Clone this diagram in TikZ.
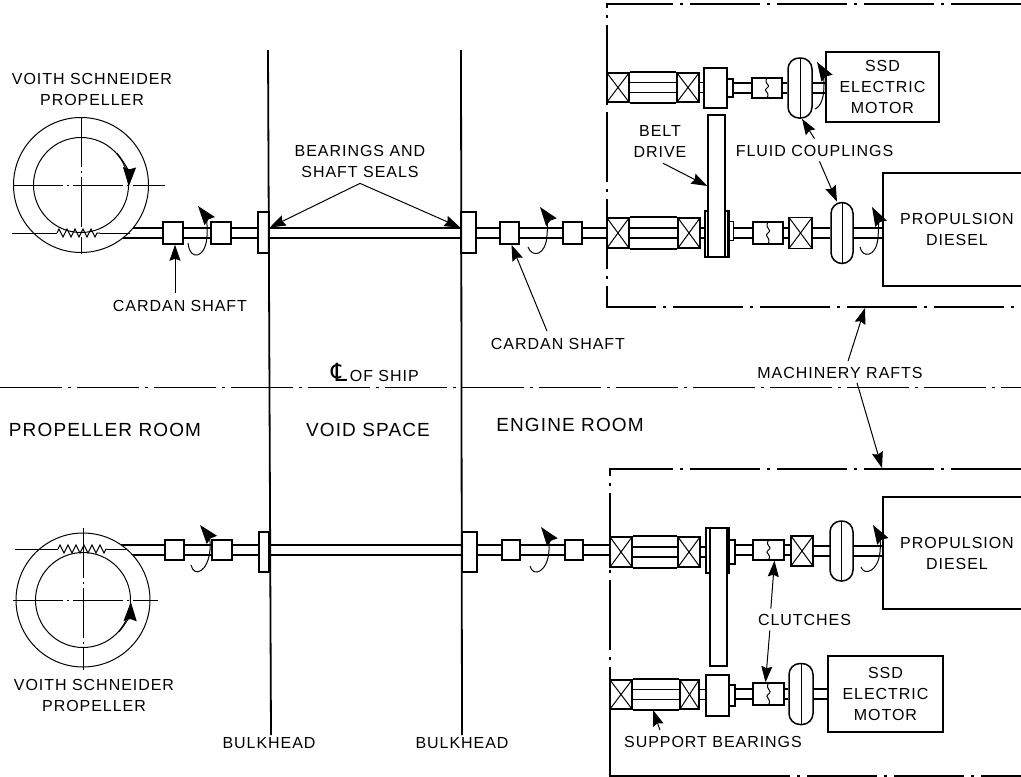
\documentclass[tikz,border=0pt]{standalone}
\usepackage{fontspec}
\setmainfont[LetterSpace=6]{Liberation Sans}
\newfontfamily\symfont{DejaVu Sans}
\usetikzlibrary{arrows.meta,backgrounds,decorations.pathmorphing}
\begin{document}
\begin{tikzpicture}[x=1pt,y=-1pt,
  lbl/.style={inner sep=0pt, align=center, font=\fontsize{16}{21}\selectfont},
  biglbl/.style={inner sep=0pt, font=\fontsize{19}{21}\selectfont},
  part/.style 2 args={draw, fill=white, line width=1.5pt, inner sep=0pt,
               minimum width=#1pt, minimum height=#2pt},
  xbox/.style 2 args={part={#1}{#2}, path picture={
      \draw[line width=1pt] (path picture bounding box.north west) -- (path picture bounding box.south east);
      \draw[line width=1pt] (path picture bounding box.south west) -- (path picture bounding box.north east);}},
  coupl/.style 2 args={part={#1}{#2}, rounded corners=11pt, path picture={
      \draw[line width=1pt] (path picture bounding box.north) -- (path picture bounding box.south);}},
  clutch/.style 2 args={part={#1}{#2}, path picture={
      \draw[line width=1pt] (path picture bounding box.north) .. controls +(-4pt,-7pt) and +(5pt,4pt) .. (path picture bounding box.center)
        .. controls +(-5pt,-4pt) and +(4pt,7pt) .. (path picture bounding box.south);}},
  wheel/.style={draw, circle, fill=white, line width=1pt, inner sep=0pt},
  shaft/.style={double, double distance=8.5pt, line width=1.6pt},
  arr/.style={-{Stealth[length=16pt,width=11pt,inset=2pt]}, line width=1pt},
  turn/.style={-{Stealth[length=19pt,width=13pt,inset=2pt]}, line width=1pt},
  bulk/.style={line width=1.8pt},
  raft/.style={line width=1.5pt, dash pattern=on 70pt off 7pt on 3pt off 7pt},
  axis/.style={line width=1pt, dash pattern=on 62pt off 6pt on 3pt off 6pt},
  hair/.style={line width=1pt, dash pattern=on 50pt off 4pt on 2pt off 4pt},
  spring/.style={line width=1pt, decorate, decoration={zigzag, segment length=8pt, amplitude=4pt}}
]
  \path[use as bounding box, clip] (0,0) rectangle (1021,777);

  \node[wheel, minimum size=135pt] (propa) at (81,185) {};
  \node[wheel, minimum size=95pt] (propb) at (81,185) {};
  \node[part={20}{22}] (carda) at (173,233) {};
  \node[part={20}{22}] (cardb) at (221,233) {};
  \node[part={11}{41}] (seala) at (263.5,232.5) {};
  \node[part={15}{41}] (sealb) at (468.5,232.5) {};
  \node[part={19}{22}] (cardc) at (509.5,233) {};
  \node[part={19}{22}] (cardd) at (572.5,233) {};
  \node[xbox={22}{30}] (brga) at (618,233) {};
  \node[xbox={22}{30}] (brgb) at (689,233) {};
  \node[part={23}{46}] (pula) at (716.5,234) {};
  \node[part={6}{19}] (huba) at (730.5,231) {};
  \node[clutch={30}{22}] (clua) at (768,233) {};
  \node[xbox={23}{31}] (xa) at (800.5,233) {};
  \node[coupl={22}{61}] (coua) at (842,233) {};
  \node[part={148}{113}, lbl] (diesa) at (957,229.5) {PROPULSION\\DIESEL};

  \node[xbox={22}{29}] (brgc) at (618,87.5) {};
  \node[xbox={22}{29}] (brgd) at (688,87.5) {};
  \node[part={23}{40}] (pulb) at (715.5,88) {};
  \node[part={6}{18}] (hubb) at (730,88) {};
  \node[clutch={30}{20}] (club) at (767,88) {};
  \node[coupl={24}{60}] (coub) at (800,88) {};
  \node[part={113}{70}, lbl] (mota) at (882.5,87) {SSD\\ELECTRIC\\MOTOR};
  \node[part={17}{142}] (belta) at (716.5,186) {};

  \node[wheel, minimum size=134pt] (propc) at (83,600) {};
  \node[wheel, minimum size=95pt] (propd) at (83,600) {};
  \node[part={19}{20}] (carde) at (174.5,550) {};
  \node[part={20}{20}] (cardf) at (222,550) {};
  \node[part={10}{40}] (sealc) at (264,552) {};
  \node[part={15}{40}] (seald) at (469.5,552) {};
  \node[part={18}{20}] (cardg) at (511,550) {};
  \node[part={18}{20}] (cardh) at (574,550) {};
  \node[xbox={22}{30}] (brge) at (621,552) {};
  \node[xbox={22}{30}] (brgf) at (689,552) {};
  \node[part={22}{45}] (pulc) at (717,550.5) {};
  \node[part={7}{24}] (hubc) at (731.5,552) {};
  \node[clutch={31}{20}] (cluc) at (768.5,550) {};
  \node[xbox={22}{30}] (xb) at (802,551) {};
  \node[coupl={23}{60}] (couc) at (841.5,551) {};
  \node[part={148}{112}, lbl] (diesb) at (957,553) {PROPULSION\\DIESEL};
  \node[part={17}{138}] (beltb) at (718.5,597) {};

  \node[xbox={22}{29}] (brgg) at (621,694.5) {};
  \node[xbox={19}{29}] (brgh) at (689.5,694.5) {};
  \node[part={23}{41}] (puld) at (717.5,695.5) {};
  \node[part={6}{21}] (hubd) at (732,695.5) {};
  \node[clutch={31}{22}] (clud) at (768.5,694) {};
  \node[coupl={24}{61}] (coud) at (801,694) {};
  \node[part={115}{76}, lbl] (motb) at (885.5,694) {SSD\\ELECTRIC\\MOTOR};

  \begin{scope}[on background layer]
    \draw[shaft] (propa |- carda) -- (carda);
    \draw[shaft] (carda) -- (cardb);
    \draw[shaft] (cardb) -- (seala.center |- cardb);
    \draw[shaft] (seala.center |- cardb) -- (sealb.center |- cardb);
    \draw[shaft] (sealb.center |- cardc) -- (cardc);
    \draw[shaft] (cardc) -- (cardd);
    \draw[shaft] (cardd) -- (brga);
    \draw[shaft] (brga) -- (brgb);
    \draw[shaft] (brgb) -- (pula.center |- brgb);
    \draw[shaft] (huba.center |- clua) -- (clua);
    \draw[shaft] (clua) -- (xa);
    \draw[shaft] (xa) -- (coua);
    \draw[shaft] (coua) -- (diesa.west |- coua);
    \draw[shaft] (brgc) -- (brgd);
    \draw[shaft] (brgd) -- (pulb.center |- brgd);
    \draw[shaft] (hubb) -- (club);
    \draw[shaft] (club) -- (coub);
    \draw[shaft] (coub) -- (mota.west |- coub);
    \draw[shaft] (propc |- carde) -- (carde);
    \draw[shaft] (carde) -- (cardf);
    \draw[shaft] (cardf) -- (sealc.center |- cardf);
    \draw[shaft] (sealc.center |- cardf) -- (seald.center |- cardf);
    \draw[shaft] (seald.center |- cardg) -- (cardg);
    \draw[shaft] (cardg) -- (cardh);
    \draw[shaft] (cardh) -- (brge.center |- cardh);
    \draw[shaft] (brge) -- (brgf);
    \draw[shaft] (brgf) -- (pulc.center |- brgf);
    \draw[shaft] (hubc.center |- cluc) -- (cluc);
    \draw[shaft] (cluc) -- (xb.center |- cluc);
    \draw[shaft] (xb) -- (couc.center |- xb);
    \draw[shaft] (couc) -- (diesb.west |- couc);
    \draw[shaft] (brgg) -- (brgh);
    \draw[shaft] (brgh) -- (puld.center |- brgh);
    \draw[shaft] (hubd.center |- clud) -- (clud);
    \draw[shaft] (clud) -- (coud);
    \draw[shaft] (coud) -- (motb.west |- coud);
  \end{scope}

  \foreach \a/\b in {brga/brgb, brgc/brgd, brge/brgf, brgg/brgh}{
    \draw[line width=1.8pt] (\a.north east) -- (\b.north west);
    \draw[line width=1.8pt] (\a.south east) -- (\b.south west);
  }
  \draw[line width=2.5pt] (pula.north east) -- (pula.south east);
  \draw[line width=2.5pt] (pulc.north east) -- (pulc.south east);

  \coordinate (springa) at (57,233);
  \coordinate (springb) at (100,233);
  \coordinate (springc) at (58,549);
  \coordinate (springd) at (107,549);
  \draw[line width=1pt] (12,233) -- (springa);
  \draw[spring] (springa) -- (springb);
  \draw[line width=1pt] (springb) -- (130,233);
  \draw[line width=1pt] (15,549) -- (springc);
  \draw[spring] (springc) -- (springd);
  \draw[line width=1pt] (springd) -- (126,549);

  \draw[hair] (13,185) -- (165,185);
  \draw[hair] (81,117) -- (81,254);
  \draw[hair] (13,600) -- (158,600);
  \draw[hair] (83,528) -- (83,670);

  \draw[turn] (propb.42) arc[start angle=42, end angle=-2, radius=47.5pt];
  \draw[turn] (propd.-42) arc[start angle=-42, end angle=-2, radius=47.5pt];

  \draw[bulk] (268,50) -- (271,735);
  \draw[bulk] (461,50) -- (462,735);
  \draw[axis] (0,387) -- (1021,387);

  \draw[raft] (1021,4) -- (607,4) -- (607,307) -- (1021,307);
  \draw[raft] (1021,469) -- (610,469) -- (610,708);
  \draw[line width=1.8pt] (610,708) -- (610,776) -- (720,776);
  \draw[raft] (720,776) -- (1021,776);

  \draw[turn] (188,243) .. controls (190,262) and (206,258) .. (207,236) .. controls (208,225) and (205,215) .. (198,206);
  \draw[turn] (528,247) .. controls (532,258) and (546,256) .. (547,235) .. controls (548,225) and (546,215) .. (540,207);
  \draw[turn] (860,247) .. controls (862,258) and (876,258) .. (878,238) .. controls (879,225) and (878,218) .. (872,207);
  \draw[turn] (815,109) .. controls (822,106) and (824,95) .. (824,85) .. controls (824,76) and (822,70) .. (817,62);
  \draw[turn] (191,565) .. controls (194,578) and (208,572) .. (210,550) .. controls (211,540) and (208,535) .. (200,525);
  \draw[turn] (530,566) .. controls (533,578) and (548,572) .. (549,550) .. controls (550,540) and (547,535) .. (541,527);
  \draw[turn] (861,567) .. controls (864,576) and (878,572) .. (880,552) .. controls (881,542) and (879,535) .. (873,525);

  \node[lbl] (voitha) at (92,89) {VOITH SCHNEIDER\\PROPELLER};
  \node[lbl] (voithb) at (94,695) {VOITH SCHNEIDER\\PROPELLER};
  \node[lbl] (cardla) at (180,306) {CARDAN SHAFT};
  \node[lbl] (cardlb) at (558,344) {CARDAN SHAFT};
  \node[lbl] (bearl) at (360,161) {BEARINGS AND\\SHAFT SEALS};
  \node[lbl] (beltl) at (660,141) {BELT\\DRIVE};
  \node[lbl] (fluidl) at (814.5,150.5) {FLUID COUPLINGS};
  \node[lbl] (raftl) at (840,373) {MACHINERY RAFTS};
  \node[lbl] (clutl) at (804.5,619.5) {CLUTCHES};
  \node[lbl] (supl) at (713,742) {SUPPORT BEARINGS};
  \node[lbl] (bulka) at (269,743) {BULKHEAD};
  \node[lbl] (bulkb) at (462,743) {BULKHEAD};
  \node[lbl, anchor=base west] (shipl) at (331,381) {{\symfont\fontsize{25}{25}\selectfont ℄}\,OF SHIP};
  \node[biglbl] (proproom) at (105,430) {PROPELLER ROOM};
  \node[biglbl] (voidroom) at (368,430) {VOID SPACE};
  \node[biglbl] (engroom) at (570,425) {ENGINE ROOM};

  \coordinate (rafta) at (865,308);
  \coordinate (raftb) at (882,468);
  \coordinate (supt) at (653,710);

  \draw[arr] ([xshift=-5pt,yshift=7pt]cardla.north) -- ([xshift=2pt]carda.south);
  \draw[arr] ([xshift=-11pt,yshift=7pt]cardlb.north) -- ([xshift=2pt]cardc.south);
  \draw[arr] ([yshift=-6pt]bearl.south) -- ([yshift=5pt]seala.east);
  \draw[arr] ([yshift=-6pt]bearl.south) -- ([yshift=5pt]sealb.west);
  \draw[arr] ([xshift=3pt,yshift=-6pt]beltl.south) -- (belta.west);
  \draw[arr] ([yshift=6pt]fluidl.north) -- ([xshift=2pt]coub.south);
  \draw[arr] ([xshift=5pt,yshift=-5pt]fluidl.south) -- ([xshift=-5pt]coua.north);
  \draw[arr] ([xshift=8pt,yshift=6pt]raftl.north) -- (rafta);
  \draw[arr] ([xshift=17pt,yshift=-4pt]raftl.south) -- (raftb);
  \draw[arr] ([shift={(13pt,5pt)}]clutl.north west) -- ([xshift=6pt]cluc.south);
  \draw[arr] ([shift={(12pt,-5pt)}]clutl.south west) -- ([xshift=-3pt]clud.north);
  \draw[arr] ([xshift=-53pt,yshift=6pt]supl.north) -- (supt);
\end{tikzpicture}
\end{document}
